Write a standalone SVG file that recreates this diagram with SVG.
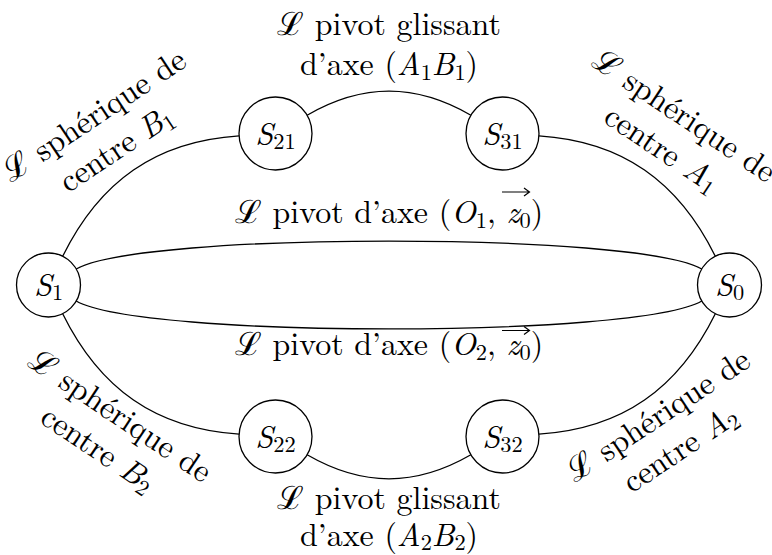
<svg xmlns="http://www.w3.org/2000/svg" width="772" height="555" viewBox="0 0 772 555">
<style>
.n circle{fill:#fff;stroke:#000;stroke-width:1.3}
.e path{fill:none;stroke:#000;stroke-width:1.3}
text{font-family:Latin Modern Roman, Liberation Serif, serif;font-size:32px;fill:#000}
.c{text-anchor:middle}
.i{font-style:italic}
.sub{font-size:22.4px}
.acc{fill:none;stroke:#000;stroke-width:1.2}
</style>
<rect width="772" height="555" fill="#fff"/>
<g id="connectors" class="e">
<path d="M62.67,256.31 C99.69,181.35 155.66,141.30 239.08,135.87"/>
<path d="M307.11,115.25 C362.64,83.19 415.36,83.19 470.89,115.25"/>
<path d="M538.92,135.87 C622.34,141.30 678.31,181.35 715.33,256.31"/>
<path d="M62.67,313.69 C99.69,388.65 155.66,428.70 239.08,434.13"/>
<path d="M307.11,454.75 C362.64,486.81 415.36,486.81 470.89,454.75"/>
<path d="M538.92,434.13 C622.34,428.70 678.31,388.65 715.33,313.69"/>
<path d="M76.2,269 C141,231.7 637,231.7 701.8,269"/>
<path d="M76.2,301 C141,338.3 637,338.3 701.8,301"/>
</g>
<g id="S1" class="n"><circle cx="48.5" cy="285" r="32"/><text class="c" x="48.5" y="295.5" font-family="Latin Modern Roman, serif"><tspan class="i">S</tspan><tspan class="sub" dy="4.8">1</tspan></text></g>
<g id="S0" class="n"><circle cx="729.5" cy="285" r="32"/><text class="c" x="729.5" y="295.5" font-family="Latin Modern Roman, serif"><tspan class="i">S</tspan><tspan class="sub" dy="4.8">0</tspan></text></g>
<g id="S21" class="n"><circle cx="275.5" cy="133.5" r="36.5"/><text class="c" x="275.5" y="144.5" font-family="Latin Modern Roman, serif"><tspan class="i">S</tspan><tspan class="sub" dy="4.8">21</tspan></text></g>
<g id="S31" class="n"><circle cx="502.5" cy="133.5" r="36.5"/><text class="c" x="502.5" y="144.5" font-family="Latin Modern Roman, serif"><tspan class="i">S</tspan><tspan class="sub" dy="4.8">31</tspan></text></g>
<g id="S22" class="n"><circle cx="275.5" cy="436.5" r="36.5"/><text class="c" x="275.5" y="447.5" font-family="Latin Modern Roman, serif"><tspan class="i">S</tspan><tspan class="sub" dy="4.8">22</tspan></text></g>
<g id="S32" class="n"><circle cx="502.5" cy="436.5" r="36.5"/><text class="c" x="502.5" y="447.5" font-family="Latin Modern Roman, serif"><tspan class="i">S</tspan><tspan class="sub" dy="4.8">32</tspan></text></g>
<g id="labels" font-family="Latin Modern Roman, serif">
<text class="c" x="389" y="35" font-family="Latin Modern Roman, serif">ℒ pivot glissant</text>
<text class="c" x="389" y="75" font-family="Latin Modern Roman, serif">d’axe (<tspan class="i">A</tspan><tspan class="sub" dy="4.8">1</tspan><tspan class="i" dy="-4.8">B</tspan><tspan class="sub" dy="4.8">1</tspan><tspan dy="-4.8">)</tspan></text>
<text class="c" x="389" y="509" font-family="Latin Modern Roman, serif">ℒ pivot glissant</text>
<text class="c" x="389" y="546" font-family="Latin Modern Roman, serif">d’axe (<tspan class="i">A</tspan><tspan class="sub" dy="4">2</tspan><tspan class="i" dy="-4">B</tspan><tspan class="sub" dy="4">2</tspan><tspan dy="-4">)</tspan></text>
<text class="c" x="389" y="223" font-family="Latin Modern Roman, serif">ℒ pivot d’axe (<tspan class="i">O</tspan><tspan class="sub" dy="4.8">1</tspan><tspan dy="-4.8">,  </tspan><tspan class="i">z</tspan><tspan class="sub" dy="4.8">0</tspan><tspan dy="-4.8">)</tspan></text>
<path class="acc" d="M502,192 H529 M524,188 L529.5,192 L524,196"/>
<text class="c" x="389" y="355" font-family="Latin Modern Roman, serif">ℒ pivot d’axe (<tspan class="i">O</tspan><tspan class="sub" dy="4.8">2</tspan><tspan dy="-4.8">,  </tspan><tspan class="i">z</tspan><tspan class="sub" dy="4.8">0</tspan><tspan dy="-4.8">)</tspan></text>
<path class="acc" d="M502,330.5 H529 M524,326.5 L529.5,330.5 L524,334.5"/>
<g transform="translate(107,135) rotate(-33.7)"><text class="c" x="0" y="-13" font-family="Latin Modern Roman, serif">ℒ sphérique de</text><text class="c" x="0" y="27" font-family="Latin Modern Roman, serif">centre <tspan class="i">B</tspan><tspan class="sub" dy="4.8">1</tspan></text></g>
<g transform="translate(671,135) rotate(33.7)"><text class="c" x="0" y="-13" font-family="Latin Modern Roman, serif">ℒ sphérique de</text><text class="c" x="0" y="27" font-family="Latin Modern Roman, serif">centre <tspan class="i">A</tspan><tspan class="sub" dy="4.8">1</tspan></text></g>
<g transform="translate(107,435) rotate(33.7)"><text class="c" x="0" y="-13" font-family="Latin Modern Roman, serif">ℒ sphérique de</text><text class="c" x="0" y="27" font-family="Latin Modern Roman, serif">centre <tspan class="i">B</tspan><tspan class="sub" dy="4.8">2</tspan></text></g>
<g transform="translate(671,435) rotate(-33.7)"><text class="c" x="0" y="-13" font-family="Latin Modern Roman, serif">ℒ sphérique de</text><text class="c" x="0" y="27" font-family="Latin Modern Roman, serif">centre <tspan class="i">A</tspan><tspan class="sub" dy="4.8">2</tspan></text></g>
</g>
</svg>
